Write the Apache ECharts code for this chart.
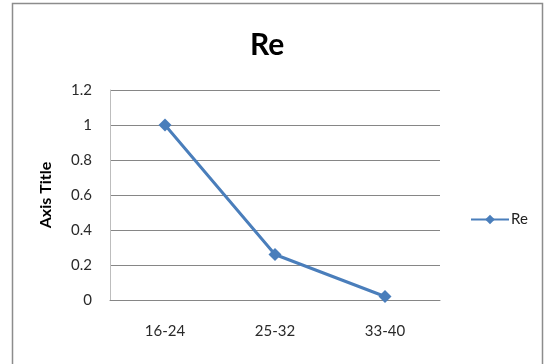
<!DOCTYPE html>
<html>
<head>
<meta charset="utf-8">
<script src="https://cdn.jsdelivr.net/npm/echarts@6/dist/echarts.min.js"></script>
<style>
  html, body { margin: 0; padding: 0; background: #fff; }
  #main { width: 545px; height: 364px; }
</style>
</head>
<body>
<div id="main"></div>
<script>
var categories = ['16-24', '25-32', '33-40'];
var reValues = [1, 0.26, 0.02];
var yTicks = [0, 0.2, 0.4, 0.6, 0.8, 1, 1.2];

var myChart = echarts.init(document.getElementById('main'));

var option = {
    backgroundColor: '#fff',
    animation: false,
    textStyle: { fontFamily: 'Lato' },
    title: {
        text: 'Re',
        left: 245,
        top: 25,
        textStyle: { fontSize: 30, fontWeight: 'bold', color: '#000', fontFamily: 'Lato' }
    },
    legend: {
        data: ['Re'],
        left: 465,
        top: 207,
        itemWidth: 38,
        itemHeight: 12,
        itemGap: 4,
        textStyle: { fontSize: 15, color: '#222', fontFamily: 'Lato', padding: [0, 0, 0, -3] }
    },
    graphic: [{
        type: 'rect',
        shape: { x: 12.5, y: 3.5, width: 530, height: 380 },
        style: { fill: 'none', stroke: '#8c8c8c', lineWidth: 1.5 },
        silent: true
    }],
    grid: { left: 110, right: 105, top: 90, bottom: 64 },
    xAxis: {
        type: 'category',
        data: categories,
        boundaryGap: true,
        axisLine: { lineStyle: { color: '#868686', width: 1 } },
        axisTick: { show: false },
        axisLabel: { fontSize: 15, color: '#2a2a2a', margin: 24, fontFamily: 'Lato' }
    },
    yAxis: {
        type: 'value',
        name: 'Axis Title',
        nameLocation: 'middle',
        nameGap: 56,
        nameTextStyle: { fontSize: 16, fontWeight: 'bold', color: '#000', fontFamily: 'Lato' },
        min: yTicks[0],
        max: yTicks[yTicks.length - 1],
        interval: 0.2,
        axisLine: { show: true, lineStyle: { color: '#bdbdbd', width: 1 } },
        axisTick: { show: false },
        splitLine: { lineStyle: { color: '#868686', width: 1 } },
        axisLabel: { fontSize: 15, color: '#2a2a2a', margin: 18, fontFamily: 'Lato' }
    },
    series: [{
        name: 'Re',
        type: 'line',
        data: reValues,
        symbol: 'diamond',
        symbolSize: 13,
        lineStyle: { color: '#4a7ebb', width: 3 },
        itemStyle: { color: '#4a7ebb' }
    }]
};

myChart.setOption(option);
</script>
</body>
</html>
